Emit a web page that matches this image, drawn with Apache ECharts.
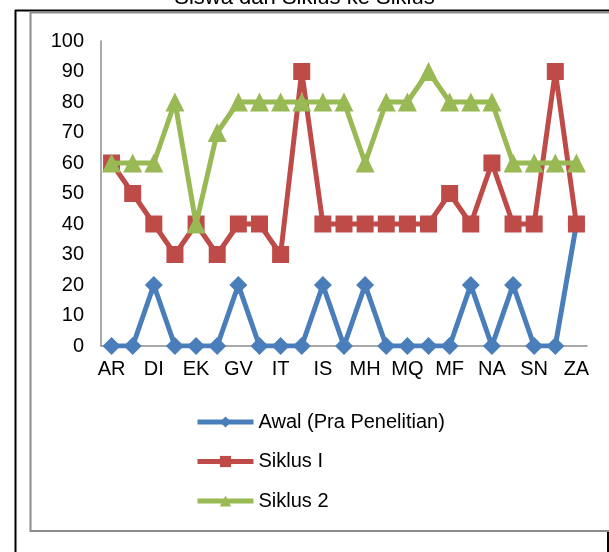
<!DOCTYPE html>
<html>
<head>
<meta charset="utf-8">
<script src="https://cdn.jsdelivr.net/npm/echarts@6/dist/echarts.min.js"></script>
<style>
html,body{margin:0;padding:0;background:#fff;}
#chart{width:609px;height:552px;}
</style>
</head>
<body>
<div id="chart"></div>
<script>
var titleText = 'Siswa dan Siklus ke Siklus';
var categories = ['AR','AS','DI','DW','EK','FA','GV','HR','IT','IK','IS','LA','MH','MR','MQ','MA','MF','MS','NA','RA','SN','YA','ZA'];
var awal   = [0,0,20,0,0,0,20,0,0,0,20,0,20,0,0,0,0,20,0,20,0,0,40];
var siklus1 = [60,50,40,30,40,30,40,40,30,90,40,40,40,40,40,40,50,40,60,40,40,90,40];
var siklus2 = [60,60,60,80,40,70,80,80,80,80,80,80,60,80,80,90,80,80,80,60,60,60,60];
var seriesNames = ['Awal (Pra Penelitian)','Siklus I','Siklus 2'];
var yTicks = {min:0, max:100, interval:10};

var FONT = '"Liberation Sans", Arial, sans-serif';
var chart = echarts.init(document.getElementById('chart'), null, {renderer:'canvas'});
chart.setOption({
  animation:false,
  backgroundColor:'#ffffff',
  textStyle:{fontFamily:FONT},
  title:{text:titleText, left:'center', top:-18,
    textStyle:{fontFamily:FONT, fontSize:22, fontWeight:'normal', color:'#000'}},
  graphic:[
    {type:'line', shape:{x1:15,y1:10.5,x2:609,y2:10.5}, style:{stroke:'#000',lineWidth:2}, z:-1},
    {type:'line', shape:{x1:15.5,y1:10,x2:15.5,y2:552}, style:{stroke:'#000',lineWidth:2}, z:-1},
    {type:'line', shape:{x1:608,y1:531,x2:608,y2:552}, style:{stroke:'#000',lineWidth:2}, z:-1},
    {type:'rect', shape:{x:30.5,y:12.5,width:600,height:518.5}, style:{fill:'#fff',stroke:'#8c8c8c',lineWidth:2}, z:-1}
  ],
  grid:{left:101, right:22, top:41, bottom:206, containLabel:false},
  xAxis:{type:'category', data:categories, boundaryGap:true,
    axisLine:{show:true, lineStyle:{color:'#8c8c8c', width:1.5}},
    axisTick:{show:false},
    axisLabel:{interval:1, color:'#000', fontSize:20, fontFamily:FONT, margin:13}},
  yAxis:{type:'value', min:yTicks.min, max:yTicks.max, interval:yTicks.interval,
    axisLine:{show:true, lineStyle:{color:'#8c8c8c', width:1.5}},
    axisTick:{show:false},
    splitLine:{show:false},
    axisLabel:{color:'#000', fontSize:20, fontFamily:FONT, margin:17}},
  legend:{orient:'vertical', left:190, top:407, itemWidth:56, itemHeight:14, itemGap:19.5,
    lineStyle:{width:5},
    textStyle:{fontFamily:FONT, fontSize:20, color:'#000'},
    data:seriesNames},
  series:[
    {name:seriesNames[0], type:'line', data:awal, symbol:'diamond', symbolSize:18, showAllSymbol:true,
      lineStyle:{color:'#4A7EBB', width:5}, itemStyle:{color:'#4A7EBB'}, z:2},
    {name:seriesNames[1], type:'line', data:siklus1, symbol:'rect', symbolSize:17, showAllSymbol:true,
      lineStyle:{color:'#BE4B48', width:5}, itemStyle:{color:'#BE4B48'}, z:3},
    {name:seriesNames[2], type:'line', data:siklus2, symbol:'triangle', symbolSize:19, showAllSymbol:true,
      lineStyle:{color:'#98B954', width:5}, itemStyle:{color:'#98B954'}, z:4}
  ]
});
</script>
</body>
</html>
